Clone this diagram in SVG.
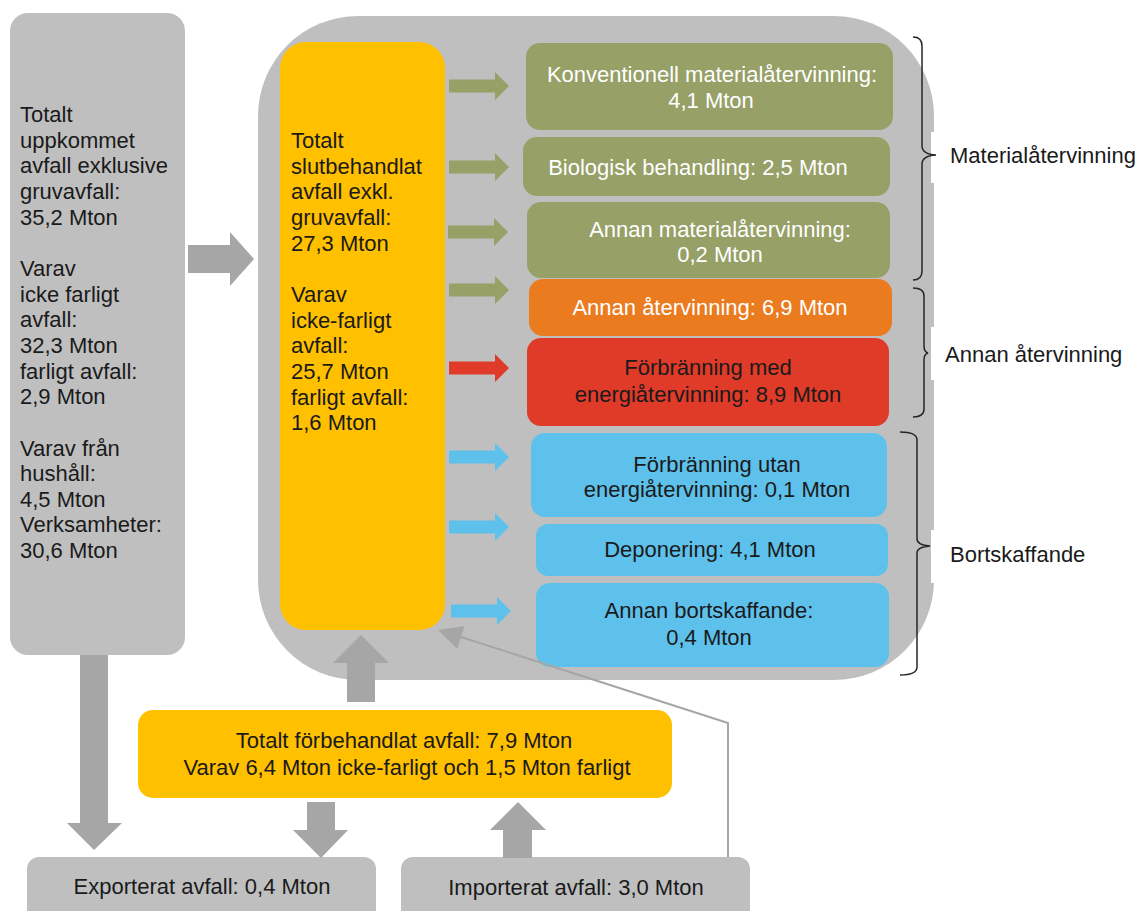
<svg xmlns="http://www.w3.org/2000/svg" width="1139" height="911" viewBox="0 0 1139 911">
<style>
text{font-family:"Liberation Sans",Arial,sans-serif;font-size:22px;fill:#1a1a1a}
.w{fill:#ffffff}
.c{text-anchor:middle}
.grey{fill:#bfbfbf}
.arr{fill:#a6a6a6}
.yel{fill:#ffc000}
.grn{fill:#96a067}
.org{fill:#ea7b1f}
.red{fill:#e03a29}
.blu{fill:#5ec1ec}
.brace{fill:none;stroke:#262626;stroke-width:1.5}
</style>
<defs>
<polygon id="ra" points="0,-6.5 46,-6.5 46,-14 60,0 46,14 46,6.5 0,6.5"/>
</defs>

<g id="container"><rect x="258" y="16" width="676" height="664" rx="100" ry="100" class="grey"/>
<rect x="931" y="132" width="12" height="51" fill="#ffffff"/>
<rect x="931" y="327" width="12" height="53" fill="#ffffff"/>
<rect x="931" y="530" width="12" height="53" fill="#ffffff"/>
</g>

<g id="total-uppkommet"><rect x="10" y="13" width="175" height="642" rx="18" class="grey"/>
<text><tspan x="20" y="122">Totalt</tspan><tspan x="20" y="147.6">uppkommet</tspan><tspan x="20" y="173.3">avfall exklusive</tspan><tspan x="20" y="199">gruvavfall:</tspan><tspan x="20" y="224.6">35,2 Mton</tspan><tspan x="20" y="275.9">Varav</tspan><tspan x="20" y="301.6">icke farligt</tspan><tspan x="20" y="327.2">avfall:</tspan><tspan x="20" y="352.9">32,3 Mton</tspan><tspan x="20" y="378.5">farligt avfall:</tspan><tspan x="20" y="404.2">2,9 Mton</tspan><tspan x="20" y="455.5">Varav från</tspan><tspan x="20" y="481.1">hushåll:</tspan><tspan x="20" y="506.8">4,5 Mton</tspan><tspan x="20" y="532.4">Verksamheter:</tspan><tspan x="20" y="558">30,6 Mton</tspan></text>
</g>

<g id="slutbehandlat"><rect x="280" y="42" width="165" height="588" rx="26" class="yel"/>
<text><tspan x="291" y="148">Totalt</tspan><tspan x="291" y="173.6">slutbehandlat</tspan><tspan x="291" y="199.3">avfall exkl.</tspan><tspan x="291" y="225">gruvavfall:</tspan><tspan x="291" y="250.6">27,3 Mton</tspan><tspan x="291" y="301.9">Varav</tspan><tspan x="291" y="327.6">icke-farligt</tspan><tspan x="291" y="353.2">avfall:</tspan><tspan x="291" y="378.9">25,7 Mton</tspan><tspan x="291" y="404.5">farligt avfall:</tspan><tspan x="291" y="430.2">1,6 Mton</tspan></text>
</g>

<g id="konventionell"><rect x="526" y="43" width="367" height="87" rx="14" class="grn"/>
<text class="w c"><tspan x="712" y="82">Konventionell materialåtervinning:</tspan><tspan x="711" y="108">4,1 Mton</tspan></text></g>

<g id="biologisk"><rect x="523" y="137" width="367" height="59" rx="14" class="grn"/>
<text class="w c" x="698" y="175">Biologisk behandling: 2,5 Mton</text></g>

<g id="annan-material"><rect x="527" y="202" width="363" height="76" rx="14" class="grn"/>
<text class="w c"><tspan x="720" y="237">Annan materialåtervinning:</tspan><tspan x="720" y="262">0,2 Mton</tspan></text></g>

<g id="annan-atervinning"><rect x="529" y="279" width="363" height="57" rx="14" class="org"/>
<text class="w c" x="710" y="315">Annan återvinning: 6,9 Mton</text></g>

<g id="forbranning-med"><rect x="527" y="338" width="362" height="88" rx="14" class="red"/>
<text class="c"><tspan x="708" y="375">Förbränning med</tspan><tspan x="708" y="402">energiåtervinning: 8,9 Mton</tspan></text></g>

<g id="forbranning-utan"><rect x="531" y="433" width="356" height="84" rx="14" class="blu"/>
<text class="c"><tspan x="717" y="472">Förbränning utan</tspan><tspan x="717" y="497">energiåtervinning: 0,1 Mton</tspan></text></g>

<g id="deponering"><rect x="536" y="524" width="352" height="52" rx="12" class="blu"/>
<text class="c" x="710" y="557">Deponering: 4,1 Mton</text></g>

<g id="annan-bortskaffande"><rect x="536" y="583" width="353" height="84" rx="14" class="blu"/>
<text class="c"><tspan x="709" y="618">Annan bortskaffande:</tspan><tspan x="709" y="645">0,4 Mton</tspan></text></g>

<g id="forbehandlat"><rect x="138" y="710" width="534" height="88" rx="15" class="yel"/>
<text class="c"><tspan x="404" y="748">Totalt förbehandlat avfall: 7,9 Mton</tspan><tspan x="407" y="775">Varav 6,4 Mton icke-farligt och 1,5 Mton farligt</tspan></text></g>

<g id="exporterat"><rect x="27" y="857" width="349" height="70" rx="12" class="grey"/>
<text class="c" x="202" y="894">Exporterat avfall: 0,4 Mton</text></g>

<g id="importerat"><rect x="401" y="857" width="349" height="70" rx="12" class="grey"/>
<text class="c" x="576" y="895">Importerat avfall: 3,0 Mton</text></g>

<g id="connectors">
<use href="#ra" x="449" y="86" class="grn"/>
<use href="#ra" x="449" y="167" class="grn"/>
<use href="#ra" x="448" y="232" class="grn"/>
<use href="#ra" x="449" y="290" class="grn"/>
<use href="#ra" x="449" y="368" class="red"/>
<use href="#ra" x="449" y="457" class="blu"/>
<use href="#ra" x="449" y="527" class="blu"/>
<use href="#ra" x="451" y="611" class="blu"/>
<polygon class="arr" points="188,245 230,245 230,232 254,259 230,286 230,273 188,273"/>
<polygon class="arr" points="80,655 108,655 108,823 122,823 94,850 67,823 80,823"/>
<polygon class="arr" points="347,702 347,663 333,663 361,635 389,663 375,663 375,702"/>
<polygon class="arr" points="307,802 335,802 335,830 348,830 321,858 293,830 307,830"/>
<polygon class="arr" points="503,858 503,830 490,830 518,802 546,830 532,830 532,858"/>
<polyline points="728,857 728,723 461,637" fill="none" stroke="#a6a6a6" stroke-width="2"/>
<polygon class="arr" points="438,630 464.6,625.9 457.2,648.7"/>
</g>

<g id="brace-material"><path class="brace" d="M913,37 Q922,37 922,46 L922,146 Q922,154 936,155 Q922,156 922,164 L922,271 Q922,280 913,280"/>
<text x="950" y="163">Materialåtervinning</text></g>
<g id="brace-annan"><path class="brace" d="M913,288 Q924,288 924,296 L924,346 Q924,352 928,353 Q924,354 924,360 L924,409 Q924,417 913,417"/>
<text x="945" y="362">Annan återvinning</text></g>
<g id="brace-bort"><path class="brace" d="M900,432 Q917,432 917,440 L917,539 Q917,545 930,546 Q917,547 917,553 L917,667 Q917,675 900,675"/>
<text x="950" y="562">Bortskaffande</text></g>
</svg>
